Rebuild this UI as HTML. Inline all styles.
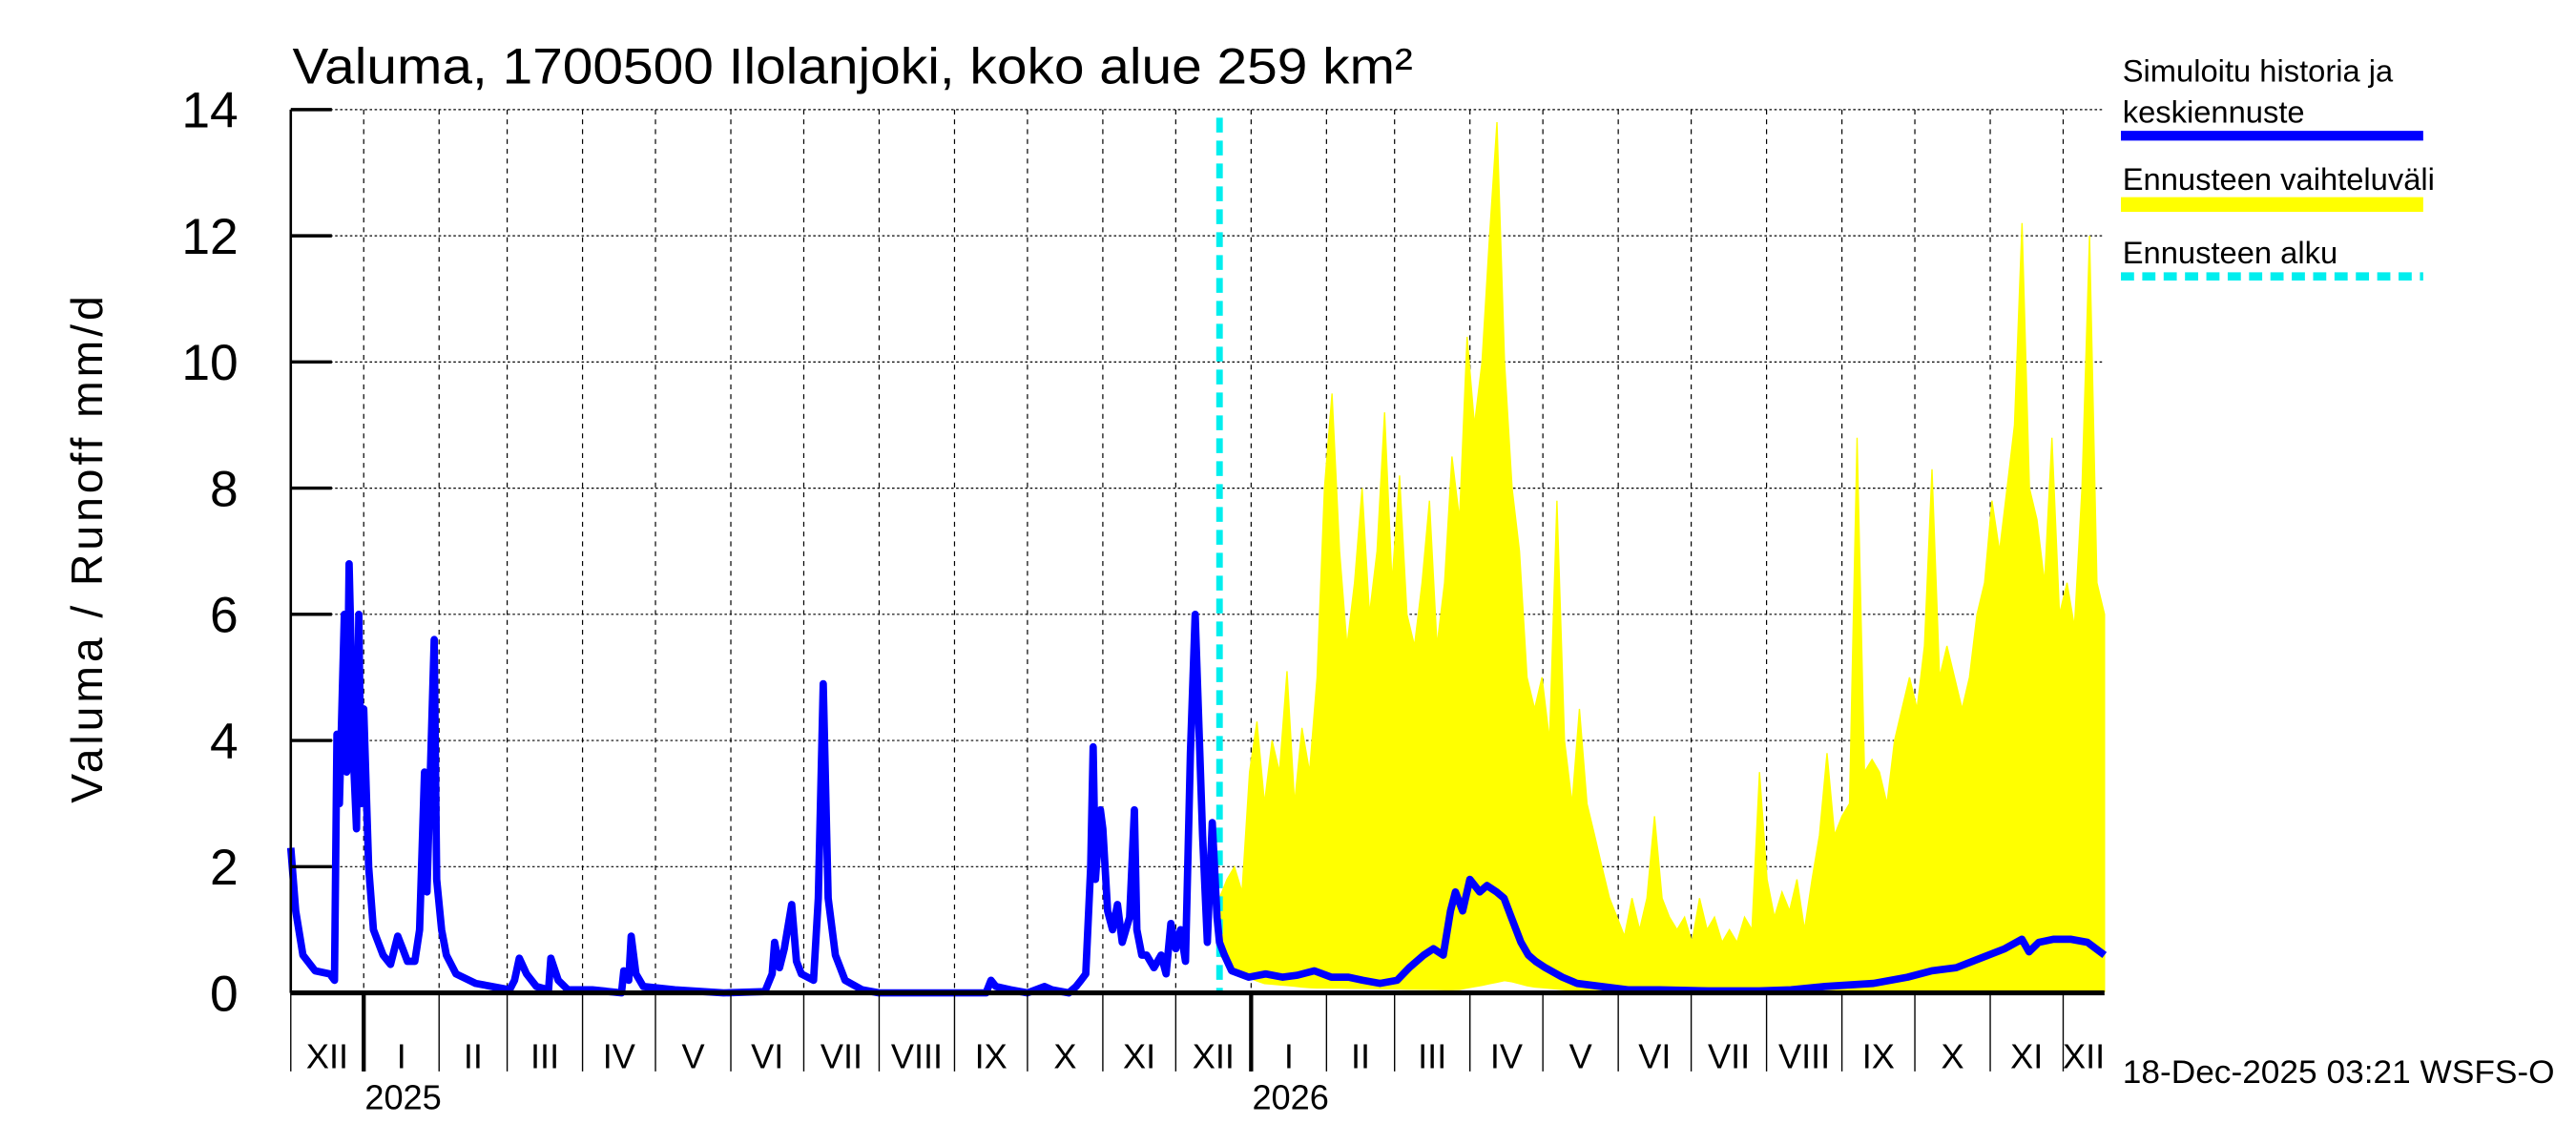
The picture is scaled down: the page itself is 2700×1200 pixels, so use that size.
<!DOCTYPE html>
<html><head><meta charset="utf-8"><style>
html,body{margin:0;padding:0;background:#fff;}
svg{display:block;font-family:"Liberation Sans",sans-serif;}
</style></head><body>
<svg id="chart" width="2700" height="1200" viewBox="0 0 1568 700" preserveAspectRatio="none" xmlns="http://www.w3.org/2000/svg">
<rect width="1568" height="700" fill="#fff"/>
<g id="grid"></g>
<g id="band"></g>
<g id="lines"></g>
<g id="axes"></g>
<text x="178" y="51" font-size="31" textLength="682" lengthAdjust="spacingAndGlyphs">Valuma, 1700500 Ilolanjoki, koko alue 259 km²</text>
<text transform="translate(62,336) rotate(-90)" text-anchor="middle" font-size="27" textLength="310" lengthAdjust="spacing">Valuma / Runoff     mm/d</text>
<text x="1292" y="662" font-size="20" textLength="263" lengthAdjust="spacingAndGlyphs">18-Dec-2025 03:21 WSFS-O</text>
<g font-size="19">
<text x="1292" y="50">Simuloitu historia ja</text>
<text x="1292" y="75">keskiennuste</text>
<line x1="1291" y1="83" x2="1475" y2="83" stroke="#0000ff" stroke-width="6"/>
<text x="1292" y="116">Ennusteen vaihteluväli</text>
<line x1="1291" y1="125" x2="1475" y2="125" stroke="#ffff00" stroke-width="9"/>
<text x="1292" y="161">Ennusteen alku</text>
<line x1="1291" y1="169" x2="1475" y2="169" stroke="#00eeee" stroke-width="5" stroke-dasharray="8,5"/>
</g>
</svg>
<script>
// day offsets from 2024-12-02
const histDays=[0,2,5,10,16,18,19,20,22,23,24,26,27,28,29,30,32,34,38,41,44,46,48,51,53,55,56,57,59,60,62,64,68,76,90,92,94,97,101,106,107,110,114,124,136,137,139,140,142,145,158,178,195,198,199,201,203,206,208,210,215,217,219,221,224,228,235,242,286,288,290,296,303,310,313,320,323,325,327,329,330,331,333,334,336,338,340,342,345,347,348,350,352,355,358,360,362,364,366,368,370,372,375,377,379,381,382,384,387,394,401,408,414,421,428,435,441,448,455,460,466,470,474,477,479,482,485,489,492,496,499,502,506,509,512,516,523,529,539,550,563,583,604,617,631,651,665,675,685,695,705,712,715,719,725,732,739,746];
const histVals=[2.3,1.3,0.6,0.35,0.3,0.2,4.1,3.0,6.0,3.5,6.8,3.5,2.6,6.0,3.0,4.5,2.0,1.0,0.6,0.45,0.9,0.7,0.5,0.5,1.0,3.5,1.6,3.0,5.6,1.8,1.0,0.6,0.3,0.15,0.05,0.2,0.55,0.3,0.1,0.05,0.55,0.2,0.05,0.05,0.0,0.35,0.2,0.9,0.3,0.1,0.05,0.0,0.02,0.3,0.8,0.4,0.7,1.4,0.5,0.3,0.2,1.5,4.9,1.5,0.6,0.2,0.05,0.0,0.0,0.2,0.1,0.05,0.0,0.1,0.05,0.0,0.1,0.2,0.3,2.0,3.9,1.8,2.9,2.6,1.3,1.0,1.4,0.8,1.2,2.9,1.0,0.6,0.6,0.4,0.6,0.3,1.1,0.7,1.0,0.5,3.8,6.0,2.5,0.8,2.7,1.2,0.8,0.6,0.35,0.25,0.3,0.25,0.28,0.35,0.25,0.25,0.2,0.15,0.2,0.4,0.6,0.7,0.6,1.3,1.6,1.3,1.8,1.6,1.7,1.6,1.5,1.2,0.8,0.6,0.5,0.4,0.25,0.15,0.1,0.05,0.05,0.03,0.03,0.05,0.1,0.15,0.25,0.35,0.4,0.55,0.7,0.85,0.65,0.8,0.85,0.85,0.8,0.6];
const bandStartDay=382, bandEndDay=746;
const bandUpper=[1.5,1.8,2.0,1.6,3.5,4.3,3.0,4.0,3.5,5.1,3.0,4.2,3.5,5.0,8.0,9.5,7.0,5.5,6.5,8.0,6.0,7.0,9.2,6.5,8.2,6.0,5.5,6.5,7.8,5.5,6.5,8.5,7.5,10.4,9.0,10.0,12.0,13.8,10.0,8.0,7.0,5.0,4.5,5.0,4.0,7.8,4.0,3.0,4.5,3.0,2.5,2.0,1.5,1.2,0.9,1.5,1.0,1.5,2.8,1.5,1.2,1.0,1.2,0.8,1.5,1.0,1.2,0.8,1.0,0.8,1.2,1.0,3.5,1.8,1.2,1.6,1.3,1.8,1.0,1.8,2.5,3.8,2.5,2.8,3.0,8.8,3.5,3.7,3.5,3.0,4.0,4.5,5.0,4.5,5.5,8.3,5.0,5.5,5.0,4.5,5.0,6.0,6.5,7.8,7.0,8.0,9.0,12.2,8.0,7.5,6.5,8.8,6.0,6.5,5.8,8.0,12.0,6.5,6.0];
const lowerDays=[382,390,400,420,480,490,500,510,530,600,746];
const lowerVals=[0.6,0.3,0.15,0.08,0.05,0.12,0.2,0.1,0.03,0.02,0.02];
const yTicks=[0,2,4,6,8,10,12,14];
const monthLabels=["XII","I","II","III","IV","V","VI","VII","VIII","IX","X","XI","XII","I","II","III","IV","V","VI","VII","VIII","IX","X","XI","XII"];
const monthStartDays=[-1,30,61,89,120,150,181,211,242,273,303,334,364,395,426,454,485,515,546,576,607,638,668,699,729];
const yearLabels=["2025","2026"];
const yearDays=[30,395];
const forecastStartDay=382;
const totalDays=746;

const NS="http://www.w3.org/2000/svg";
const X0=177,X1=1281,Y0=607,Y1=67;
const xs=d=>X0+(d/totalDays)*(X1-X0);
const ys=v=>Y0-(v/14)*(Y0-Y1);
function mk(tag,attrs,parent){const e=document.createElementNS(NS,tag);for(const k in attrs)e.setAttribute(k,attrs[k]);parent.appendChild(e);return e;}
const grid=document.getElementById('grid'),axes=document.getElementById('axes'),band=document.getElementById('band'),lines=document.getElementById('lines');

yTicks.forEach(t=>{
  if(t>0){const g=mk('line',{x1:X0,x2:X1,y1:ys(t),y2:ys(t),stroke:'#000','stroke-width':0.7,'stroke-dasharray':'1.5,1.5'},grid);
  
  }
  const tk=mk('line',{x1:X0,x2:X0+25,y1:ys(t),y2:ys(t),stroke:'#000','stroke-width':2},axes);
  
  
  const lb=mk('text',{x:145,y:ys(t)+11,'text-anchor':'end','font-size':31},axes);
  lb.textContent=t;
  
  
});
monthStartDays.forEach((d,i)=>{
  const x=xs(Math.max(d,0));
  if(d>0){const g=mk('line',{x1:x,x2:x,y1:Y1,y2:Y0,stroke:'#000','stroke-width':0.7,'stroke-dasharray':'3,3'},grid);
  
  }
  const tk=mk('line',{x1:x,x2:x,y1:Y0,y2:655,stroke:'#000','stroke-width':0.8},axes);
  
  
  const next=i+1<monthStartDays.length?monthStartDays[i+1]:totalDays;
  const lb=mk('text',{x:xs((Math.max(d,0)+next)/2),y:653,'text-anchor':'middle','font-size':21},axes);
  lb.textContent=monthLabels[i];
  
  
});
yearDays.forEach((d,i)=>{
  const x=xs(d);
  const tk=mk('line',{x1:x,x2:x,y1:Y0,y2:655,stroke:'#000','stroke-width':2.5},axes);
  
  
  const lb=mk('text',{x:x+24,y:678,'text-anchor':'middle','font-size':21},axes);
  lb.textContent=yearLabels[i];
  
  
});
function interpLower(d){for(let i=1;i<lowerDays.length;i++){if(d<=lowerDays[i]){const t=(d-lowerDays[i-1])/(lowerDays[i]-lowerDays[i-1]);return lowerVals[i-1]+t*(lowerVals[i]-lowerVals[i-1]);}}return lowerVals[lowerVals.length-1];}
let pts=[];const n=bandUpper.length;
for(let i=0;i<n;i++){const d=bandStartDay+i*(bandEndDay-bandStartDay)/(n-1);pts.push(xs(d).toFixed(1)+','+ys(bandUpper[i]).toFixed(1));}
for(let i=n-1;i>=0;i--){const d=bandStartDay+i*(bandEndDay-bandStartDay)/(n-1);pts.push(xs(d).toFixed(1)+','+ys(interpLower(d)).toFixed(1));}
const bp=mk('polygon',{points:pts.join(' '),fill:'#ffff00',stroke:'#ffff00','stroke-width':0.8},band);


const fs=mk('line',{x1:xs(forecastStartDay),x2:xs(forecastStartDay),y1:72,y2:Y0,stroke:'#00eeee','stroke-width':4,'stroke-dasharray':'9,5'},lines);


const hp=mk('polyline',{points:histDays.map((d,i)=>xs(d).toFixed(1)+','+ys(histVals[i]).toFixed(1)).join(' '),fill:'none',stroke:'#0000ff','stroke-width':4.5,'stroke-linejoin':'round'},lines);


const ax=mk('line',{x1:X0,x2:X1,y1:Y0,y2:Y0,stroke:'#000','stroke-width':3},axes);


const ay=mk('line',{x1:X0,x2:X0,y1:Y1,y2:Y0,stroke:'#000','stroke-width':1.5},axes);


</script>
</body></html>
